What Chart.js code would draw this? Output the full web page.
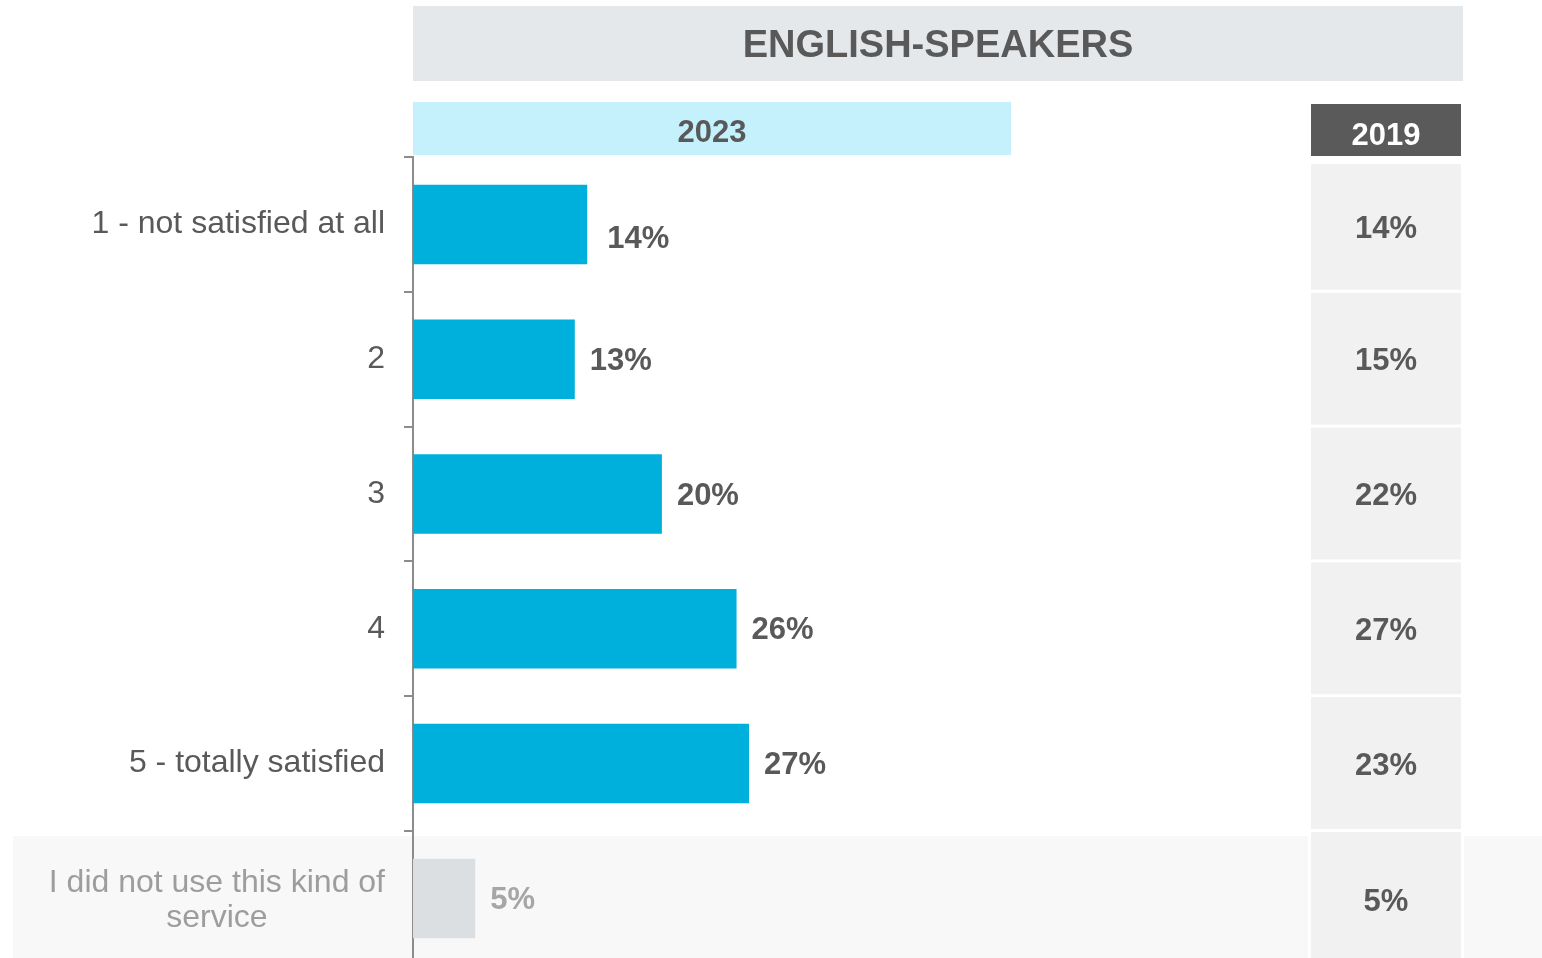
<!DOCTYPE html>
<html><head><meta charset="utf-8">
<script src="https://cdn.jsdelivr.net/npm/chart.js@4/dist/chart.umd.min.js"></script>
<style>
html,body{margin:0;padding:0;overflow:hidden;background:#fff;width:1542px;height:958px}
canvas{display:block}
</style></head>
<body><canvas id="c" width="1542" height="1004"></canvas>
<script>
const titleText = 'ENGLISH-SPEAKERS';
const currentYear = '2023';
const previousYear = '2019';
const categories = ['1 - not satisfied at all', '2', '3', '4', '5 - totally satisfied', ['I did not use this kind of', 'service']];
const values2023 = [14, 13, 20, 26, 27, 5];
const values2019 = [14, 15, 22, 27, 23, 5];

const FONT = '"Liberation Sans", Arial, sans-serif';
const DARK = '#595959';
const LIGHT = '#9d9d9d';
const lastIdx = categories.length - 1;

const deco = {
  id: 'deco',
  beforeDraw(chart) {
    const {ctx} = chart;
    const y = chart.scales.y;
    const n = categories.length;
    const step = (y.bottom - y.top) / n;
    const b = i => y.top + i * step;
    ctx.save();
    ctx.fillStyle = '#e5e8eb'; ctx.fillRect(413, 6, 1050, 75);
    ctx.fillStyle = '#c5f1fd'; ctx.fillRect(413, 102, 598, 53);
    ctx.fillStyle = '#5a5a5a'; ctx.fillRect(1311, 104, 150, 52);
    ctx.fillStyle = '#f8f8f8'; ctx.fillRect(13, b(n - 1) + 5, chart.width - 13, chart.height);
    ctx.fillStyle = '#ffffff'; ctx.fillRect(1308, b(n - 1) + 5, 156, chart.height);
    ctx.fillStyle = '#f1f1f1';
    for (let i = 0; i < n; i++) {
      const top = i === 0 ? 164 : b(i) + 1;
      const bottom = b(i + 1) - 2;
      ctx.fillRect(1311, top, 150, bottom - top);
    }
    ctx.restore();
  },
  afterDatasetsDraw(chart) {
    const {ctx} = chart;
    const meta = chart.getDatasetMeta(0);
    ctx.save();
    ctx.font = 'bold 31px ' + FONT;
    ctx.textAlign = 'left';
    ctx.textBaseline = 'middle';
    meta.data.forEach((bar, i) => {
      const nudgeX = i === 0 ? 5 : 0;
      const nudgeY = i === 0 ? 13 : 0;
      ctx.fillStyle = i === lastIdx ? '#a6a6a6' : DARK;
      ctx.fillText(values2023[i] + '%', bar.x + 15 + nudgeX, bar.y + 2 + nudgeY);
    });
    ctx.restore();
  },
  afterDraw(chart) {
    const {ctx} = chart;
    const y = chart.scales.y;
    const n = categories.length;
    const step = (y.bottom - y.top) / n;
    const b = i => y.top + i * step;
    ctx.save();
    ctx.textAlign = 'center';
    ctx.textBaseline = 'middle';
    ctx.fillStyle = DARK;
    ctx.font = 'bold 38px ' + FONT;
    ctx.fillText(titleText, 938, 47);
    ctx.font = 'bold 31px ' + FONT;
    ctx.fillText(currentYear, 712, 133);
    ctx.fillStyle = '#ffffff';
    ctx.fillText(previousYear, 1386, 136);
    ctx.fillStyle = DARK;
    for (let i = 0; i < n; i++) {
      const top = i === 0 ? 164 : b(i) + 1;
      const bottom = b(i + 1) - 2;
      const cy = i === n - 1 ? (top + 958) / 2 + 7 : (top + bottom) / 2 + 3;
      ctx.fillText(values2019[i] + '%', 1386, cy);
    }
    const lines = categories[lastIdx];
    ctx.font = '32px ' + FONT;
    ctx.fillStyle = LIGHT;
    const w = Math.max(...lines.map(l => ctx.measureText(l).width));
    const cx = 385 - w / 2;
    const cyL = y.getPixelForValue(lastIdx) + 2;
    const lh = 35;
    lines.forEach((l, k) => {
      ctx.fillText(l, cx, cyL + (k - (lines.length - 1) / 2) * lh);
    });
    ctx.restore();
  }
};

new Chart(document.getElementById('c'), {
  type: 'bar',
  data: {
    labels: categories,
    datasets: [{
      data: values2023,
      backgroundColor: values2023.map((v, i) => i === lastIdx ? '#dcdfe2' : '#00b0dc'),
      borderWidth: 0,
      barPercentage: 0.59,
      categoryPercentage: 1
    }]
  },
  options: {
    indexAxis: 'y',
    responsive: false,
    animation: false,
    events: [],
    layout: {padding: {top: 157, bottom: 14, left: 0, right: 233}},
    plugins: {legend: {display: false}, tooltip: {enabled: false}},
    scales: {
      x: {display: false, min: 0, max: 72},
      y: {
        z: 1,
        afterFit(scale) { scale.width = 413; },
        border: {display: true, color: '#8c8c8c', width: 2},
        grid: {display: true, offset: true, drawOnChartArea: false, drawTicks: true, tickLength: 9, color: '#8c8c8c', lineWidth: 2},
        ticks: {
          padding: 19,
          font: {family: FONT, size: 32},
          color: DARK,
          callback: (v, i) => i === lastIdx ? '' : categories[i]
        }
      }
    }
  },
  plugins: [deco]
});
</script>
</body></html>
